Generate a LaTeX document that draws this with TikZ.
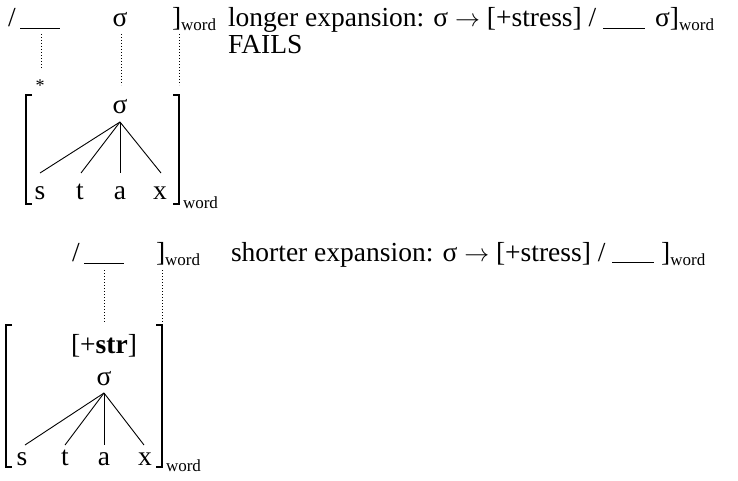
\documentclass[tikz,border=0pt]{standalone}
\usepackage{fontspec}
\setmainfont{Liberation Serif}
\newcommand\wsub{\raisebox{-4pt}{\fontsize{17}{17}\selectfont word}}
\newcommand\blank{\rule[-2pt]{42pt}{0.9pt}}
\newcommand\arr{\ensuremath{\rightarrow}}
\begin{document}
\begin{tikzpicture}[x=1pt,y=-1pt,
  every node/.style={inner sep=0pt,outer sep=0pt},
  txt/.style={font=\fontsize{27.5}{32}\selectfont},
  lab/.style={txt,anchor=base},
  labw/.style={txt,anchor=base west},
  dotl/.style={line width=1pt,dash pattern=on 1.4pt off 1.6pt},
  treel/.style={line width=0.9pt},
  brk/.style={line width=1.3pt},
  uline/.style={line width=1pt}]
\useasboundingbox (0,0) rectangle (738,481);

% ---------- top: longer expansion ----------
\node[lab] (slA) at (12,27) {/};
\coordinate (ulA1) at (20,29); \coordinate (ulA2) at (60,29);
\draw[uline] (ulA1) -- (ulA2);
\node[lab] (sgA) at (120,27) {σ};
\node[labw] (rbA) at (172,27) {]\wsub};

\coordinate (dA1t) at (41,34); \coordinate (dA1b) at (41,69);
\coordinate (dA2t) at (121,34); \coordinate (dA2b) at (121,85);
\coordinate (dA3t) at (179,34); \coordinate (dA3b) at (179,85);
\draw[dotl] (dA1t) -- (dA1b);
\draw[dotl] (dA2t) -- (dA2b);
\draw[dotl] (dA3t) -- (dA3b);
\node[anchor=base,font=\fontsize{18}{18}\selectfont] (star) at (40,92) {*};

% brackets
\coordinate (LA1) at (32,95); \coordinate (LA2) at (26,95);
\coordinate (LA3) at (26,204); \coordinate (LA4) at (32,204);
\draw[brk] (LA1) -- (LA2) -- (LA3) -- (LA4);
\coordinate (RA1) at (173,95); \coordinate (RA2) at (179,95);
\coordinate (RA3) at (179,204); \coordinate (RA4) at (173,204);
\draw[brk] (RA1) -- (RA2) -- (RA3) -- (RA4);
\node[anchor=base west,font=\fontsize{17}{17}\selectfont] (wA) at (183,208) {word};

\node[lab] (sigA) at (120,114) {σ};
\coordinate (apA) at (120,122);
\node[lab] (sA) at (40,199) {s};
\node[lab] (tA) at (80,199) {t};
\node[lab] (aA) at (120,199) {a};
\node[lab] (xA) at (160,199) {x};
\coordinate (lsA) at (40,173); \coordinate (ltA) at (81,173);
\coordinate (laA) at (120,173); \coordinate (lxA) at (161,173);
\draw[treel] (apA) -- (lsA);
\draw[treel] (apA) -- (ltA);
\draw[treel] (apA) -- (laA);
\draw[treel] (apA) -- (lxA);

\node[labw] (longer) at (228,27) {longer expansion: σ \arr{} [+stress] / \blank{}\hspace{3pt} σ]\wsub};
\node[labw] (fails) at (228,54) {FAILS};

% ---------- bottom: shorter expansion ----------
\node[lab] (slB) at (76,261) {/};
\coordinate (ulB1) at (84,263); \coordinate (ulB2) at (124,263);
\draw[uline] (ulB1) -- (ulB2);
\node[labw] (rbB) at (156,261) {]\wsub};

\coordinate (dB1t) at (104,270); \coordinate (dB1b) at (104,322);
\coordinate (dB2t) at (162,270); \coordinate (dB2b) at (162,322);
\draw[dotl] (dB1t) -- (dB1b);
\draw[dotl] (dB2t) -- (dB2b);

\coordinate (LB1) at (12,325); \coordinate (LB2) at (6,325);
\coordinate (LB3) at (6,467); \coordinate (LB4) at (12,467);
\draw[brk] (LB1) -- (LB2) -- (LB3) -- (LB4);
\coordinate (RB1) at (156,325); \coordinate (RB2) at (162,325);
\coordinate (RB3) at (162,467); \coordinate (RB4) at (156,467);
\draw[brk] (RB1) -- (RB2) -- (RB3) -- (RB4);
\node[anchor=base west,font=\fontsize{17}{17}\selectfont] (wB) at (166,471) {word};

\node[lab] (strB) at (104,353) {[+\textbf{str}]};
\node[lab] (sigB) at (104,385) {σ};
\coordinate (apB) at (104,393);
\node[lab] (sB) at (22,465) {s};
\node[lab] (tB) at (65,465) {t};
\node[lab] (aB) at (104,465) {a};
\node[lab] (xB) at (145,465) {x};
\coordinate (lsB) at (25,445); \coordinate (ltB) at (65,445);
\coordinate (laB) at (104,445); \coordinate (lxB) at (144,445);
\draw[treel] (apB) -- (lsB);
\draw[treel] (apB) -- (ltB);
\draw[treel] (apB) -- (laB);
\draw[treel] (apB) -- (lxB);

\node[labw] (shorter) at (231,261) {shorter expansion: σ \arr{} [+stress] / \blank{} ]\wsub};
\end{tikzpicture}
\end{document}
